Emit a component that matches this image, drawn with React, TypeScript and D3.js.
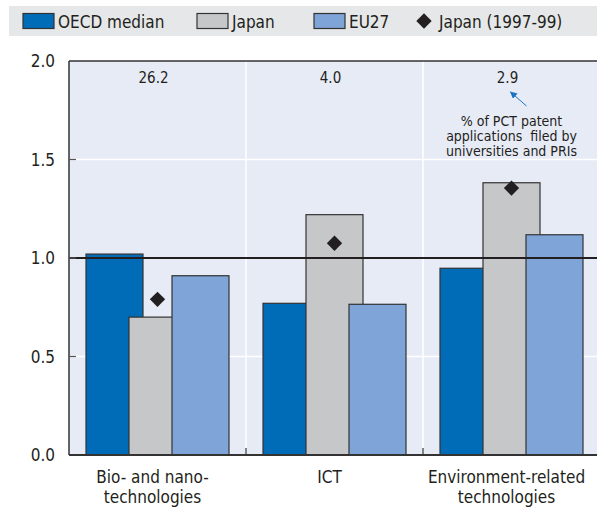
import * as d3 from 'd3';
import { useEffect, useRef } from 'react';

const categories = ['Bio- and nano-technologies', 'ICT', 'Environment-related technologies'];
const categoryLines = [['Bio- and nano-', 'technologies'], ['ICT'], ['Environment-related', 'technologies']];
const oecdMedian = [1.02, 0.77, 0.948];
const japan = [0.7, 1.22, 1.382];
const eu27 = [0.91, 0.765, 1.118];
const japan9799 = [0.79, 1.075, 1.355];
const pctShares = ['26.2', '4.0', '2.9'];
const yTicks = [0, 0.5, 1.0, 1.5, 2.0];
const seriesNames = ['OECD median', 'Japan', 'EU27'];
const seriesColors = ['#006bb6', '#c6c7c9', '#7fa4d7'];
const noteLines = ['% of PCT patent', 'applications  filed by', 'universities and PRIs'];

const FONT = "'Liberation Sans Narrow', 'Arial Narrow', 'DejaVu Sans Condensed', sans-serif";
const INK = '#231f20';

export default function App() {
    const ref = useRef<SVGSVGElement>(null);

    const width = 597,
        height = 509;
    const margin = { top: 61, right: -3, bottom: 54, left: 69 };

    useEffect(() => {
        const root = d3.select(ref.current);
        root.selectAll('*').remove();
        const svg = root.attr('width', width).attr('height', height).style('font-family', FONT);

        // legend band
        const lg = svg.append('g');
        lg.append('rect').attr('x', 9).attr('y', 6).attr('width', width - 9).attr('height', 30).attr('fill', '#e6e7e8');
        const legendX = [23, 197, 314];
        seriesNames.forEach((name, i) => {
            lg.append('rect')
                .attr('x', legendX[i])
                .attr('y', 13.5)
                .attr('width', 31)
                .attr('height', 15)
                .attr('fill', seriesColors[i])
                .attr('stroke', '#333')
                .attr('stroke-width', 1.2);
            lg.append('text')
                .attr('x', legendX[i] + 35)
                .attr('y', 28)
                .attr('font-size', 17)
                .attr('fill', INK)
                .text(name);
        });
        lg.append('path')
            .attr('d', d3.symbol(d3.symbolDiamond2, 150)())
            .attr('transform', 'translate(424,21)')
            .attr('fill', INK);
        lg.append('text').attr('x', 439).attr('y', 28).attr('font-size', 17).attr('fill', INK).text('Japan (1997-99)');

        const innerW = width - margin.left - margin.right;
        const innerH = height - margin.top - margin.bottom;
        const g = svg.append('g').attr('transform', `translate(${margin.left},${margin.top})`);

        const x = d3.scaleBand().domain(categories).range([0, innerW]).paddingInner(0).paddingOuter(0);
        const y = d3.scaleLinear().domain([0, 2]).range([innerH, 0]);
        const step = 43,
            barW = 57;
        const barX = (c: string, s: number) => (x(c) as number) + x.bandwidth() / 2 + (s - 1) * step - barW / 2;

        g.append('rect').attr('width', innerW).attr('height', innerH).attr('fill', '#e7ebf6');

        // white grid
        g.selectAll('.hgrid')
            .data([0.5, 1.5])
            .join('line')
            .attr('x1', 0)
            .attr('x2', innerW)
            .attr('y1', (d) => y(d))
            .attr('y2', (d) => y(d))
            .attr('stroke', '#fff')
            .attr('stroke-width', 1.5);
        g.selectAll('.vgrid')
            .data(categories.slice(1))
            .join('line')
            .attr('x1', (d) => x(d) as number)
            .attr('x2', (d) => x(d) as number)
            .attr('y1', 0)
            .attr('y2', innerH)
            .attr('stroke', '#fff')
            .attr('stroke-width', 1.5);

        // bars, drawn series by series so each overlaps the previous
        [oecdMedian, japan, eu27].forEach((vals, s) => {
            g.append('g')
                .selectAll('rect')
                .data(categories)
                .join('rect')
                .attr('x', (c) => barX(c, s))
                .attr('y', (c, i) => y(vals[i]))
                .attr('width', barW)
                .attr('height', (c, i) => innerH - y(vals[i]))
                .attr('fill', seriesColors[s])
                .attr('stroke', '#333')
                .attr('stroke-width', 1.2);
        });

        // reference line at 1
        g.append('line')
            .attr('x1', 0)
            .attr('x2', innerW)
            .attr('y1', y(1))
            .attr('y2', y(1))
            .attr('stroke', INK)
            .attr('stroke-width', 2);

        // Japan 1997-99 diamonds
        g.selectAll('.dia')
            .data(categories)
            .join('path')
            .attr('d', d3.symbol(d3.symbolDiamond2, 150)())
            .attr('transform', (c, i) => `translate(${(x(c) as number) + x.bandwidth() / 2},${y(japan9799[i])})`)
            .attr('fill', INK);

        // axes frame
        g.append('line').attr('x1', 0).attr('x2', innerW).attr('y1', 0).attr('y2', 0).attr('stroke', '#333').attr('stroke-width', 1.5);
        g.append('line').attr('x1', 0).attr('x2', 0).attr('y1', 0).attr('y2', innerH).attr('stroke', '#333').attr('stroke-width', 1.5);
        g.append('line').attr('x1', 0).attr('x2', innerW).attr('y1', innerH).attr('y2', innerH).attr('stroke', '#333').attr('stroke-width', 2);

        // y ticks
        g.selectAll('.ytick')
            .data(yTicks.filter((t) => t > 0 && t < 2))
            .join('line')
            .attr('x1', 0)
            .attr('x2', 7)
            .attr('y1', (d) => y(d))
            .attr('y2', (d) => y(d))
            .attr('stroke', '#555')
            .attr('stroke-width', 1.2);
        g.selectAll('.ylab')
            .data(yTicks)
            .join('text')
            .attr('x', -14)
            .attr('y', (d) => y(d) + 6)
            .attr('text-anchor', 'end')
            .attr('font-size', 17)
            .attr('fill', INK)
            .text((d) => d3.format('.1f')(d));

        // x separators ticks
        g.selectAll('.xtick')
            .data(categories.slice(1))
            .join('line')
            .attr('x1', (d) => x(d) as number)
            .attr('x2', (d) => x(d) as number)
            .attr('y1', innerH - 7)
            .attr('y2', innerH)
            .attr('stroke', '#333')
            .attr('stroke-width', 1.2);

        // category labels
        categories.forEach((c, i) => {
            const t = g
                .append('text')
                .attr('x', (x(c) as number) + x.bandwidth() / 2 - 5)
                .attr('y', innerH + 28)
                .attr('text-anchor', 'middle')
                .attr('font-size', 17)
                .attr('fill', INK);
            categoryLines[i].forEach((line, j) => {
                t.append('tspan')
                    .attr('x', (x(c) as number) + x.bandwidth() / 2 - 5)
                    .attr('dy', j === 0 ? 0 : 20)
                    .text(line);
            });
        });

        // PCT shares
        g.selectAll('.share')
            .data(categories)
            .join('text')
            .attr('x', (c) => (x(c) as number) + x.bandwidth() / 2 - 4)
            .attr('y', 22)
            .attr('text-anchor', 'middle')
            .attr('font-size', 15)
            .attr('fill', INK)
            .text((c, i) => pctShares[i]);

        // note and arrow
        const cx = (x(categories[2]) as number) + x.bandwidth() / 2;
        const note = g
            .append('text')
            .attr('text-anchor', 'middle')
            .attr('font-size', 14)
            .attr('fill', INK)
            .style('white-space', 'pre');
        noteLines.forEach((line, j) => {
            note.append('tspan')
                .attr('x', cx)
                .attr('y', 65 + j * 15)
                .text(line);
        });
        svg.append('defs')
            .append('marker')
            .attr('id', 'arr')
            .attr('viewBox', '0 0 10 10')
            .attr('refX', 9)
            .attr('refY', 5)
            .attr('markerWidth', 7)
            .attr('markerHeight', 7)
            .attr('orient', 'auto')
            .append('path')
            .attr('d', 'M0,0L10,5L0,10Z')
            .attr('fill', '#1a73c2');
        g.append('line')
            .attr('x1', cx + 15)
            .attr('y1', 45)
            .attr('x2', cx - 1)
            .attr('y2', 31)
            .attr('stroke', '#1a73c2')
            .attr('stroke-width', 1)
            .attr('marker-end', 'url(#arr)');
    }, [height, margin.bottom, margin.left, margin.right, margin.top, width]);

    return <svg ref={ref} style={{ position: 'absolute', left: 0, top: 0 }} />;
}
